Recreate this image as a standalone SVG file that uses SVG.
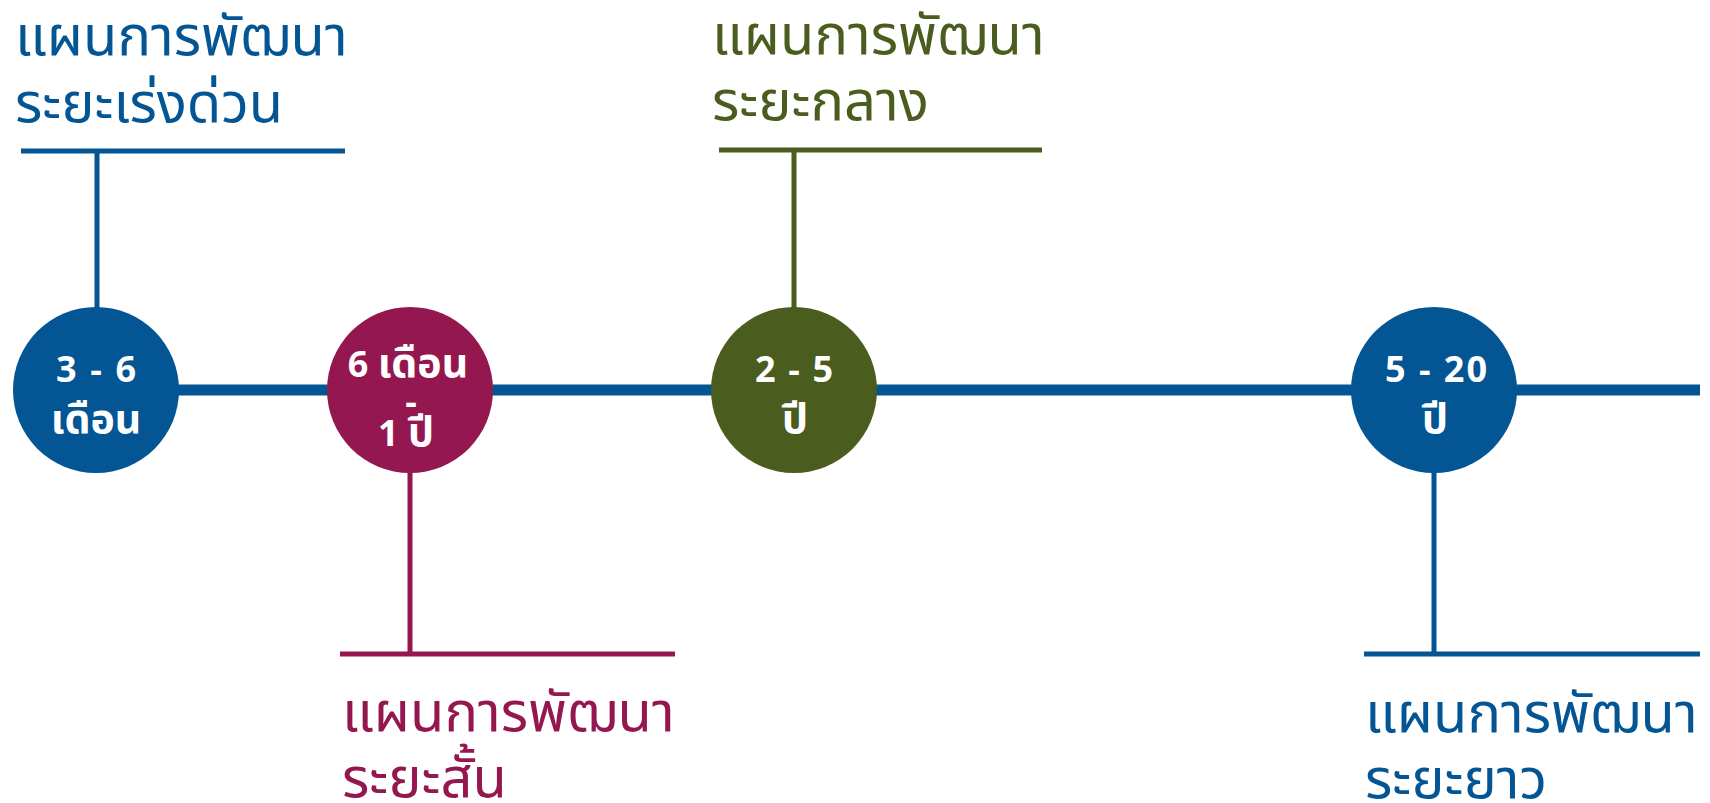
<svg xmlns="http://www.w3.org/2000/svg" width="1710" height="803" viewBox="0 0 1710 803">
<style>
.lbl{font-family:"Noto Sans Thai","Noto Sans Thai Looped","Noto Sans",sans-serif;font-size:56px}
.ctext{font-family:"Noto Sans Thai","Noto Sans","Liberation Sans",sans-serif;font-size:36px;font-weight:bold;fill:#ffffff;text-anchor:middle}
.th{font-size:41px}
.blue{fill:#035593}
.mag{fill:#951750}
.grn{fill:#4A5C1E}
.sb{stroke:#035593}
.sm{stroke:#951750}
.sg{stroke:#4A5C1E}
.thin{stroke-width:5;fill:none}
</style>
<rect width="1710" height="803" fill="#ffffff"/>
<g id="connectors">
<line x1="96" y1="390" x2="1700" y2="390" class="sb" stroke-width="11"/>
<line x1="21" y1="151" x2="345" y2="151" class="sb thin"/>
<line x1="97" y1="151" x2="97" y2="310" class="sb thin"/>
<line x1="719" y1="150" x2="1042" y2="150" class="sg thin"/>
<line x1="794" y1="150" x2="794" y2="310" class="sg thin"/>
<line x1="340" y1="654" x2="675" y2="654" class="sm thin"/>
<line x1="410" y1="470" x2="410" y2="654" class="sm thin"/>
<line x1="1364" y1="654" x2="1700" y2="654" class="sb thin"/>
<line x1="1434" y1="470" x2="1434" y2="654" class="sb thin"/>
</g>
<g id="node-3-6">
<circle cx="96" cy="390" r="83" class="blue"/>
<text class="ctext" x="96" y="382" textLength="80" lengthAdjust="spacing">3 - 6</text>
<text class="ctext th" x="96" y="433">เดือน</text>
</g>
<g id="node-6m-1y">
<circle cx="410" cy="390" r="83" class="mag"/>
<text class="ctext" x="408" y="377">6 <tspan class="th">เดือน</tspan></text>
<text class="ctext" x="411" y="414" font-size="34">-</text>
<text class="ctext" x="406" y="446">1 <tspan class="th">ปี</tspan></text>
</g>
<g id="node-2-5">
<circle cx="794" cy="390" r="83" class="grn"/>
<text class="ctext" x="794" y="382" textLength="78" lengthAdjust="spacing">2 - 5</text>
<text class="ctext th" x="795" y="433">ปี</text>
</g>
<g id="node-5-20">
<circle cx="1434" cy="390" r="83" class="blue"/>
<text class="ctext" x="1436" y="382" textLength="102" lengthAdjust="spacing">5 - 20</text>
<text class="ctext th" x="1435" y="433">ปี</text>
</g>
<g id="label-urgent">
<text class="lbl blue" x="15" y="55">แผนการพัฒนา</text>
<text class="lbl blue" x="15" y="122">ระยะเร่งด่วน</text>
</g>
<g id="label-medium">
<text class="lbl grn" x="712" y="54">แผนการพัฒนา</text>
<text class="lbl grn" x="712" y="120">ระยะกลาง</text>
</g>
<g id="label-short">
<text class="lbl mag" x="342" y="731">แผนการพัฒนา</text>
<text class="lbl mag" x="342" y="797">ระยะสั้น</text>
</g>
<g id="label-long">
<text class="lbl blue" x="1365" y="732">แผนการพัฒนา</text>
<text class="lbl blue" x="1365" y="798">ระยะยาว</text>
</g>
</svg>
